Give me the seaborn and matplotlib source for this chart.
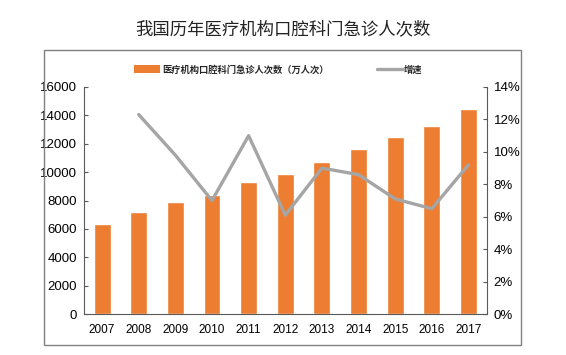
import numpy as np
import pandas as pd
import matplotlib
matplotlib.use("Agg")
import matplotlib.pyplot as plt
from matplotlib.patches import Rectangle, Patch
from matplotlib.lines import Line2D
from matplotlib.ticker import PercentFormatter
import seaborn as sns

years = ["2007", "2008", "2009", "2010", "2011", "2012", "2013", "2014", "2015", "2016", "2017"]
visits = [6380, 7170, 7870, 8390, 9300, 9860, 10750, 11650, 12470, 13270, 14440]
growth = [np.nan, 12.3, 9.8, 7.0, 11.0, 6.1, 9.0, 8.6, 7.1, 6.5, 9.2]
title = "我国历年医疗机构口腔科门急诊人次数"
bar_label = "医疗机构口腔科门急诊人次数（万人次）"
line_label = "增速"

sns.set_theme(style="white")
plt.rcParams['font.family'] = ['Liberation Sans', 'Noto Sans CJK SC']

df = pd.DataFrame({"year": years, "visits": visits, "growth": growth})
df["pos"] = np.arange(len(years))

fig = plt.figure(figsize=(5.66, 3.55), dpi=100)
ax = fig.add_axes([0.148, 0.115, 0.712, 0.64])

orange = "#ED7D31"
gray = "#A5A5A5"

sns.barplot(data=df, x="year", y="visits", color=orange, width=0.46, ax=ax, saturation=1)
ax.set_xlim(-0.5, len(years) - 0.5)
ax.set_ylim(0, 16000)
ax.set_yticks(np.arange(0, 16001, 2000))
ax.set_xlabel("")
ax.set_ylabel("")

ax2 = ax.twinx()
sns.lineplot(data=df.dropna(), x="pos", y="growth", color=gray, linewidth=2.4, ax=ax2)
ax2.set_ylim(0, 14)
ax2.set_yticks(np.arange(0, 15, 2))
ax2.yaxis.set_major_formatter(PercentFormatter(decimals=0))
ax2.set_xlabel("")
ax2.set_ylabel("")
ax2.set_xlim(-0.5, len(years) - 0.5)

axis_col = "#595959"
for a in (ax, ax2):
    a.spines["top"].set_visible(False)
    for s in a.spines.values():
        s.set_color(axis_col)
        s.set_linewidth(0.8)
ax.spines["right"].set_visible(False)
ax2.spines["left"].set_visible(False)
ax2.spines["bottom"].set_visible(False)

ax.tick_params(axis="y", labelsize=9.5, labelcolor="#000000", length=3, width=0.8,
               direction="in", pad=5, color=axis_col)
ax.tick_params(axis="x", labelsize=8.5, labelcolor="#000000", length=0, pad=7)
ax2.tick_params(axis="y", labelsize=9.5, labelcolor="#000000", length=3, width=0.8,
                direction="in", pad=5, color=axis_col)
ax.set_xticks(np.arange(len(years)))
ax.set_xticks(np.arange(len(years) + 1) - 0.5, minor=True)
ax.tick_params(axis="x", which="minor", length=3, width=0.8, direction="in", color=axis_col)
ax.grid(False)
ax2.grid(False)

fig.text(0.5, 0.918, title, ha="center", va="center", fontsize=12.5,
         family=['Noto Sans CJK SC', 'DejaVu Sans'], color="#222222")

handles = [Patch(facecolor=orange, edgecolor="none"),
           Line2D([0], [0], color=gray, linewidth=2.4)]
leg = fig.legend(handles, [bar_label, line_label], loc="center", bbox_to_anchor=(0.492, 0.804),
                 ncol=2, frameon=False, columnspacing=5.2, handlelength=2.8, handletextpad=0.15,
                 handleheight=0.9,
                 prop={"family": ['Noto Sans CJK SC', 'DejaVu Sans'], "size": 6.7, "weight": "bold"})
for t in leg.get_texts():
    t.set_color("#262626")

fig.patches.append(Rectangle((0.078, 0.028), 0.842, 0.831, transform=fig.transFigure,
                             fill=False, edgecolor="#808080", linewidth=1.0))

fig.savefig("out.png", dpi=100)
